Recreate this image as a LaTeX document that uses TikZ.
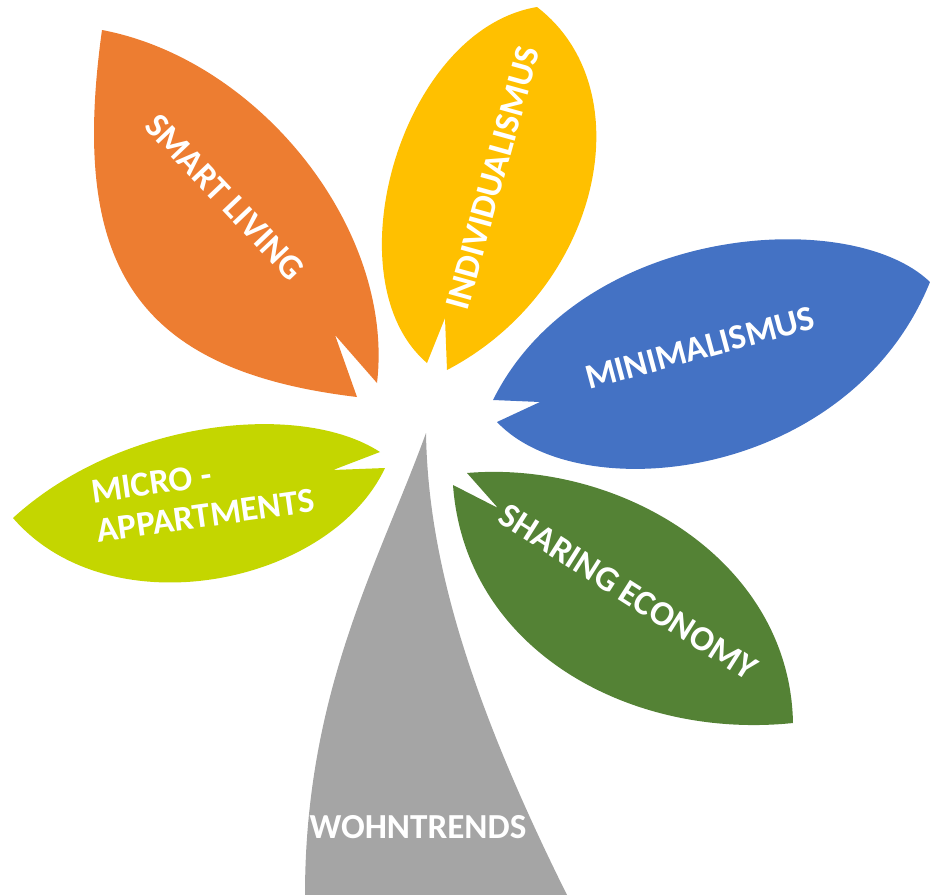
\documentclass[tikz,border=0pt]{standalone}
\usepackage{fontspec}
\setmainfont{Carlito}
\definecolor{leaforange}{RGB}{237,125,49}
\definecolor{leafyellow}{RGB}{255,192,0}
\definecolor{leafblue}{RGB}{68,114,196}
\definecolor{leafgreen}{RGB}{84,130,53}
\definecolor{leaflime}{RGB}{196,214,0}
\definecolor{stemgray}{RGB}{165,165,165}
\tikzstyle{leaftext} = [text=white, font=\bfseries\fontsize{25}{28}\selectfont, inner sep=0pt]

\begin{document}
\begin{tikzpicture}[x=0.025cm,y=-0.025cm]
      \useasboundingbox (0,0) rectangle (930,895);
      % stem
      \fill[stemgray] (426,433) .. controls (380,560) and (305,690) .. (305,895)
            -- (567,895) .. controls (470,700) and (428,560) .. (426,433) -- cycle;
      % leaves, each with its notch at the stem end
      \fill[leaforange] (357,397) -- (335,335) -- (377,383)
            .. controls (395,230) and (260,60) .. (102,30)
            .. controls (70,260) and (130,370) .. (357,397) -- cycle;
      \fill[leafyellow] (427,363) -- (445,318) -- (447,370)
            .. controls (600,290) and (645,90) .. (537,7)
            .. controls (400,30) and (330,280) .. (427,363) -- cycle;
      \fill[leafblue] (493,400) .. controls (580,225) and (850,205) .. (930,282)
            .. controls (850,480) and (580,510) .. (497,422) -- (540,402) -- cycle;
      \fill[leafgreen] (467,473) .. controls (620,460) and (790,560) .. (793,723)
            .. controls (630,740) and (465,650) .. (453,485) -- (498,508) -- cycle;
      \fill[leaflime] (380,452) -- (333,470) -- (385,468)
            .. controls (330,585) and (110,630) .. (13,518)
            .. controls (120,420) and (300,400) .. (380,452) -- cycle;
      % labels
      \node[leaftext, rotate=-46.5] (smart) at (225,197) {SMART LIVING};
      \node[leaftext, rotate=74.5] (indiv) at (493,178) {INDIVIDUALISMUS};
      \node[leaftext, rotate=15] (mini) at (700,348) {MINIMALISMUS};
      \node[leaftext, rotate=-32.4] (sharing) at (628,592) {SHARING ECONOMY};
      \node[leaftext, rotate=8, align=left] (micro) at (203,496) {MICRO -\\APPARTMENTS};
      \node[leaftext] (wohn) at (418,827) {WOHNTRENDS};
\end{tikzpicture}
\end{document}
